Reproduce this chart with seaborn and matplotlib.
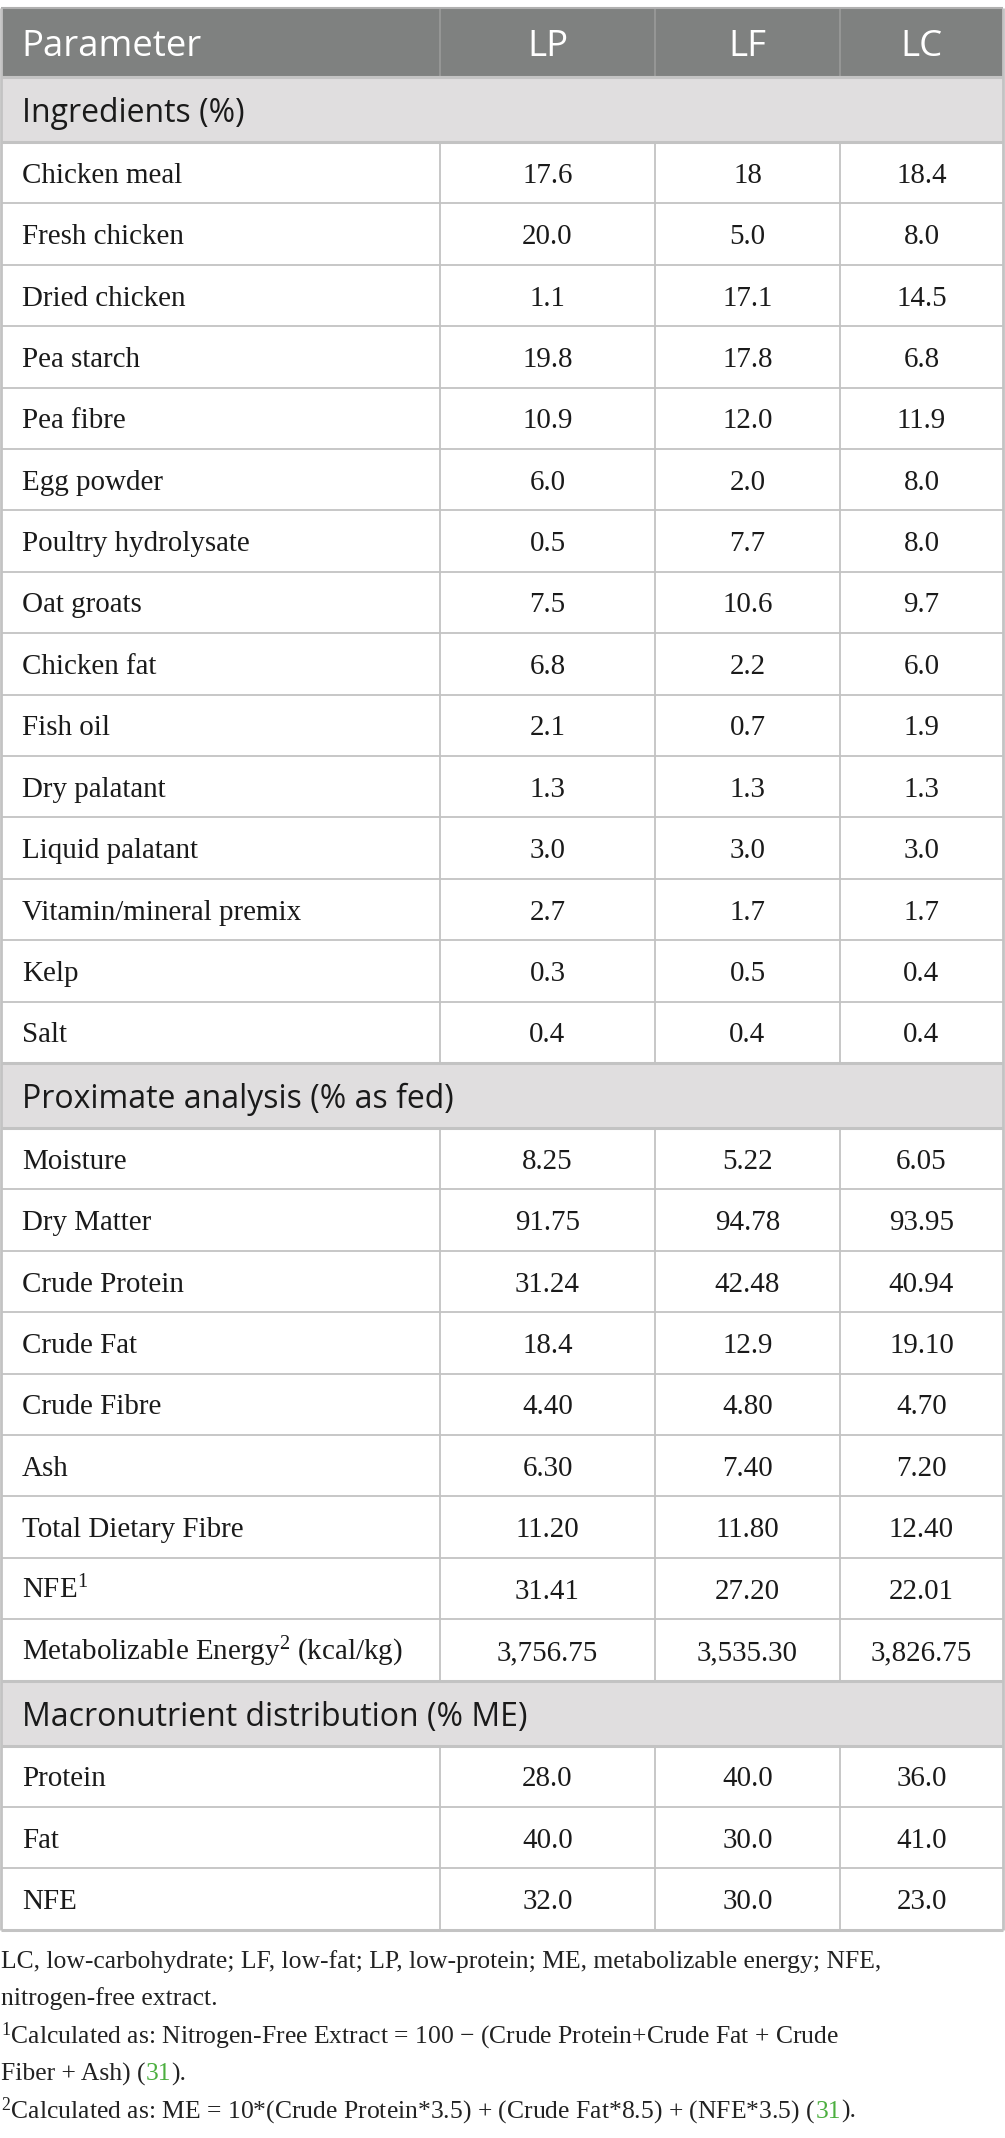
import matplotlib
matplotlib.use("Agg")
import matplotlib.pyplot as plt
import seaborn as sns

# ---------------- data ----------------
columns = ["Parameter", "LP", "LF", "LC"]

sec1_title = "Ingredients (%)"
sec1_rows = ["Chicken meal", "Fresh chicken", "Dried chicken", "Pea starch", "Pea fibre",
             "Egg powder", "Poultry hydrolysate", "Oat groats", "Chicken fat", "Fish oil",
             "Dry palatant", "Liquid palatant", "Vitamin/mineral premix", "Kelp", "Salt"]
sec1_LP = ["17.6", "20.0", "1.1", "19.8", "10.9", "6.0", "0.5", "7.5", "6.8", "2.1",
           "1.3", "3.0", "2.7", "0.3", "0.4"]
sec1_LF = ["18", "5.0", "17.1", "17.8", "12.0", "2.0", "7.7", "10.6", "2.2", "0.7",
           "1.3", "3.0", "1.7", "0.5", "0.4"]
sec1_LC = ["18.4", "8.0", "14.5", "6.8", "11.9", "8.0", "8.0", "9.7", "6.0", "1.9",
           "1.3", "3.0", "1.7", "0.4", "0.4"]

sec2_title = "Proximate analysis (% as fed)"
sec2_rows = ["Moisture", "Dry Matter", "Crude Protein", "Crude Fat", "Crude Fibre", "Ash",
             "Total Dietary Fibre", "NFE$^{1}$", "Metabolizable Energy$^{2}$ (kcal/kg)"]
sec2_LP = ["8.25", "91.75", "31.24", "18.4", "4.40", "6.30", "11.20", "31.41", "3,756.75"]
sec2_LF = ["5.22", "94.78", "42.48", "12.9", "4.80", "7.40", "11.80", "27.20", "3,535.30"]
sec2_LC = ["6.05", "93.95", "40.94", "19.10", "4.70", "7.20", "12.40", "22.01", "3,826.75"]

sec3_title = "Macronutrient distribution (% ME)"
sec3_rows = ["Protein", "Fat", "NFE"]
sec3_LP = ["28.0", "40.0", "32.0"]
sec3_LF = ["40.0", "30.0", "30.0"]
sec3_LC = ["36.0", "41.0", "23.0"]

footnotes = [
    [("LC, low-carbohydrate; LF, low-fat; LP, low-protein; ME, metabolizable energy; NFE,", False)],
    [("nitrogen-free extract.", False)],
    [("$^{1}$Calculated as: Nitrogen-Free Extract = 100 \u2212 (Crude Protein+Crude Fat + Crude", False)],
    [("Fiber + Ash) (", False), ("31", True), (").", False)],
    [("$^{2}$Calculated as: ME = 10*(Crude Protein*3.5) + (Crude Fat*8.5) + (NFE*3.5) (", False),
     ("31", True), (").", False)],
]

sections = [
    (sec1_title, sec1_rows, sec1_LP, sec1_LF, sec1_LC),
    (sec2_title, sec2_rows, sec2_LP, sec2_LF, sec2_LC),
    (sec3_title, sec3_rows, sec3_LP, sec3_LF, sec3_LC),
]

# ---------------- style ----------------
sns.set_theme(style="white")
plt.rcParams["font.family"] = ["Liberation Serif", "DejaVu Serif"]
plt.rcParams["mathtext.fontset"] = "custom"
plt.rcParams["mathtext.rm"] = "Liberation Serif"
plt.rcParams["mathtext.default"] = "regular"

W, H = 1005, 2138
fig = plt.figure(figsize=(W / 100, H / 100), dpi=100)
ax = fig.add_axes([0, 0, 1, 1])
ax.set_xlim(0, W)
ax.set_ylim(H, 0)
ax.axis("off")

HEAD_BG = "#7f8180"
SEC_BG = "#e0dedf"
GRID = "#c3c3c3"
TXT = "#1a1a1a"
GREEN = "#4caf3f"
SANS = ["Open Sans", "DejaVu Sans"]
SERIF = ["Liberation Serif", "DejaVu Serif"]

col_edges = [1, 440, 655, 840, 1003]
top = 8
head_h = 69
sec_h = 65
row_h = 61.4

PT = 0.72  # px -> pt at 100 dpi
body_fs = 29 * PT
head_fs = 36.5 * PT
sec_fs = 32 * PT
foot_fs = 25.6 * PT
pad = 21

# header
ax.barh(top + head_h / 2, col_edges[-1] - col_edges[0], height=head_h, left=col_edges[0],
        color=HEAD_BG, edgecolor="none", zorder=1)
for xe in col_edges[1:-1]:
    ax.vlines(xe, top, top + head_h, color="#9a9b9a", lw=1.2, zorder=2)
for j, c in enumerate(columns):
    yb = top + head_h / 2 + 13
    if j == 0:
        ax.text(col_edges[0] + pad - 1, yb, c, ha="left", va="baseline", color="white",
                fontsize=head_fs, family=SANS, zorder=3)
    else:
        ax.text((col_edges[j] + col_edges[j + 1]) / 2, yb, c, ha="center", va="baseline",
                color="white", fontsize=head_fs, family=SANS, zorder=3)

y = top + head_h
hlines_thin = []
hlines_thick = [top + head_h]
for title, names, lp, lf, lc in sections:
    # section row
    ax.barh(y + sec_h / 2, col_edges[-1] - col_edges[0], height=sec_h, left=col_edges[0],
            color=SEC_BG, edgecolor="none", zorder=1)
    ax.text(col_edges[0] + pad, y + sec_h / 2 + 12.5, title, ha="left", va="baseline",
            color=TXT, fontsize=sec_fs, family=SANS, zorder=3)
    hlines_thick.append(y)
    y += sec_h
    hlines_thick.append(y)
    y0 = y
    for i, name in enumerate(names):
        yc = y + row_h / 2
        yb = yc + 10
        ax.text(col_edges[0] + pad, yb, name, ha="left", va="baseline", color=TXT,
                fontsize=body_fs, family=SERIF, zorder=3)
        for j, vals in enumerate([lp, lf, lc], start=1):
            ax.text((col_edges[j] + col_edges[j + 1]) / 2, yb, vals[i], ha="center",
                    va="baseline", color=TXT, fontsize=body_fs, family=SERIF, zorder=3)
        y += row_h
        if i < len(names) - 1:
            hlines_thin.append(y)
    for xe in col_edges[1:-1]:
        ax.vlines(xe, y0, y, color=GRID, lw=1.3, zorder=2)

ax.hlines(hlines_thin, col_edges[0], col_edges[-1], color=GRID, lw=1.3, zorder=2)
ax.hlines(hlines_thick, col_edges[0], col_edges[-1], color=GRID, lw=2.2, zorder=2)
ax.hlines([top], col_edges[0], col_edges[-1], color="#b0b0b0", lw=1.5, zorder=2)
ax.hlines([y], col_edges[0], col_edges[-1], color=GRID, lw=2.2, zorder=2)
ax.vlines([col_edges[0], col_edges[-1]], top, y, color=GRID, lw=2.0, zorder=2)

# footnotes
fig.canvas.draw()
renderer = fig.canvas.get_renderer()
inv = ax.transData.inverted()
fy = 1968
for line in footnotes:
    x = 1
    for s, green in line:
        t = ax.text(x, fy, s, ha="left", va="baseline", color=GREEN if green else "#222222",
                    fontsize=foot_fs, family=SERIF)
        bb = t.get_window_extent(renderer)
        x = inv.transform((bb.x1, bb.y0))[0]
    fy += 37.5

fig.savefig("out.png", dpi=100, facecolor="white")
